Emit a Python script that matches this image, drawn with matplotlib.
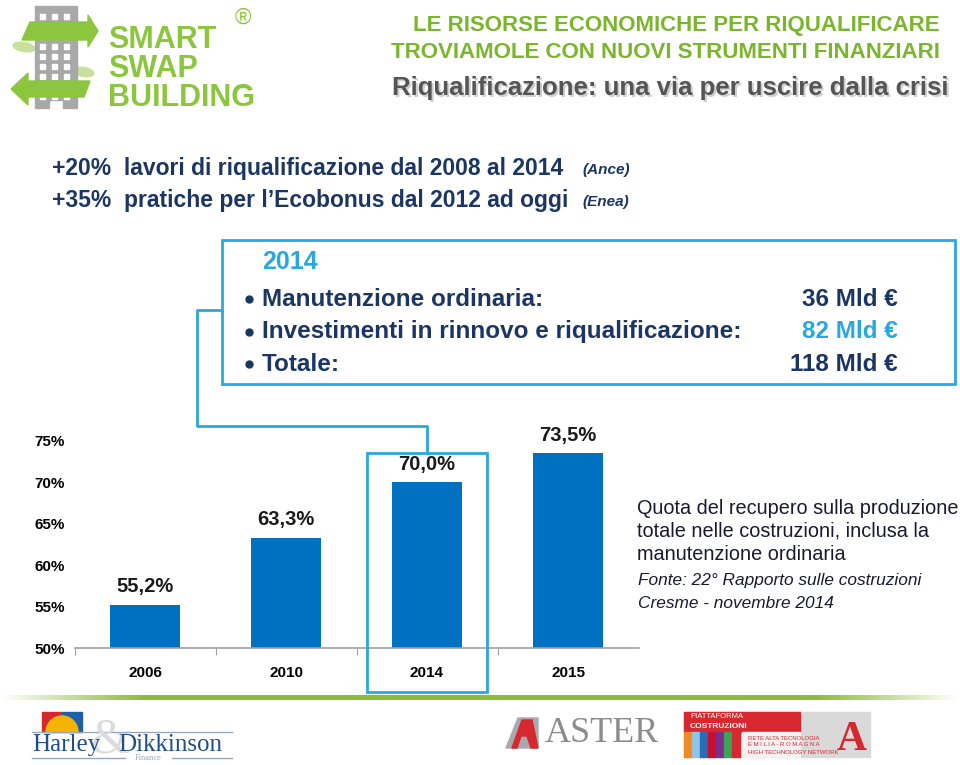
import matplotlib
matplotlib.use("Agg")
import matplotlib.pyplot as plt
import numpy as np
from matplotlib.patches import Rectangle, Polygon, Wedge, Ellipse

# chart data
years = ['2006', '2010', '2014', '2015']
shares = [55.2, 63.3, 70.0, 73.5]
share_labels = ['55,2%', '63,3%', '70,0%', '73,5%']
y_ticks = [50, 55, 60, 65, 70, 75]
y_tick_labels = ['50%', '55%', '60%', '65%', '70%', '75%']
highlight = '2014'

# box content
box_year = '2014'
box_items = ['Manutenzione ordinaria:',
             'Investimenti in rinnovo e riqualificazione:',
             'Totale:']
box_values = ['36 Mld €', '82 Mld €', '118 Mld €']

NAVY = '#1b3663'
CYAN = '#29a8df'
BAR = '#0070c0'
GREEN = '#8cc63f'
NARROW = ['Liberation Sans Narrow', 'Liberation Sans', 'DejaVu Sans']
SANS = ['Liberation Sans', 'DejaVu Sans']
SERIF = ['Liberation Serif', 'DejaVu Serif']

W, H = 960, 765
fig = plt.figure(figsize=(W / 100, H / 100), dpi=100)


def fx(px):
    return px / W


def fy(py):
    return 1 - py / H


# ---- bar chart ----
ax = fig.add_axes([fx(74.5), fy(648), fx(564), (648 - 441) / H])
ax.set_zorder(1)
x = np.arange(len(years))
ax.bar(x, [v - 50 for v in shares], bottom=50, width=0.5, color=BAR)
for xi, v, lab in zip(x, shares, share_labels):
    ax.text(xi, v + 2.2, lab, ha='center', va='center', fontsize=14.5,
            fontweight='bold', family=SANS, color='#1a1a1a', clip_on=False)
ax.set_xlim(-0.5, len(years) - 0.5)
ax.set_ylim(50, 75)
for s in ['top', 'right', 'left']:
    ax.spines[s].set_visible(False)
ax.spines['bottom'].set_color('#a0a0a0')
ax.spines['bottom'].set_linewidth(1.2)
ax.set_yticks(y_ticks)
ax.set_yticklabels(y_tick_labels, fontsize=11, fontweight='bold',
                   family=SANS)
ax.tick_params(axis='y', length=0, pad=7)
ax.set_xticks(np.arange(-0.5, len(years) - 0.5, 1), minor=False)
ax.set_xticklabels([])
ax.tick_params(axis='x', which='major', length=5, color='#a0a0a0',
               direction='out')
ax.set_xticks(x, minor=True)
ax.set_xticklabels(years, minor=True, fontsize=11, fontweight='bold',
                   family=SANS)
ax.tick_params(axis='x', which='minor', length=0, pad=13)
ax.patch.set_alpha(0)

# ---- slide overlay ----
ov = fig.add_axes([0, 0, 1, 1])
ov.set_zorder(2)
ov.axis('off')
ov.patch.set_alpha(0)

# logo: building with arrows
ov.add_patch(Ellipse((24, 47), 22, 9, angle=10, color='#c7e19a'))
ov.add_patch(Ellipse((84, 72), 20, 9, angle=10, color='#c7e19a'))
ov.add_patch(Rectangle((35, 6), 42, 94, color='#a8a8a8'))
ov.add_patch(Rectangle((35, 100), 14, 8, color='#a8a8a8'))
ov.add_patch(Rectangle((63, 100), 14, 8, color='#a8a8a8'))
for wy in range(14, 98, 10):
    for wx in (40, 52, 64):
        ov.add_patch(Rectangle((wx, wy), 5, 5, color='white'))
ov.add_patch(Polygon([[30, 22], [88, 22], [88, 15], [98, 31], [88, 47],
                      [88, 40], [22, 40]], color=GREEN))
ov.add_patch(Polygon([[28, 81], [28, 73], [11, 89], [28, 105], [28, 97],
                      [84, 97], [90, 81]], color=GREEN))
for i, word in enumerate(['SMART', 'SWAP', 'BUILDING']):
    ov.text(108, 40 + 29 * i, word, fontsize=22, fontweight='bold',
            family=SANS, color=GREEN, va='center', ha='left')
ov.text(243, 18, '®', fontsize=16, color=GREEN, family=SANS,
        ha='center', va='center')

# titles
ov.text(940, 25, 'LE RISORSE ECONOMICHE PER RIQUALIFICARE', fontsize=16,
        fontweight='bold', family=SANS, color='#7ab62b', ha='right',
        va='center')
ov.text(940, 52, 'TROVIAMOLE CON NUOVI STRUMENTI FINANZIARI', fontsize=16,
        fontweight='bold', family=SANS, color='#7ab62b', ha='right',
        va='center')
ov.text(950, 90, 'Riqualificazione: una via per uscire dalla crisi',
        fontsize=18.5, fontweight='bold', family=SANS, color='#d0d0d0',
        ha='right', va='center')
ov.text(948, 88, 'Riqualificazione: una via per uscire dalla crisi',
        fontsize=18.5, fontweight='bold', family=SANS, color='#555555',
        ha='right', va='center')

# headline facts
ov.text(52, 168, '+20%  lavori di riqualificazione dal 2008 al 2014',
        fontsize=16.5, fontweight='bold', family=NARROW, color=NAVY,
        va='center')
ov.text(582, 170, '(Ance)', fontsize=11, fontweight='bold', style='italic',
        family=NARROW, color=NAVY, va='center')
ov.text(52, 200, "+35%  pratiche per l’Ecobonus dal 2012 ad oggi",
        fontsize=16.5, fontweight='bold', family=NARROW, color=NAVY,
        va='center')
ov.text(582, 202, '(Enea)', fontsize=11, fontweight='bold', style='italic',
        family=NARROW, color=NAVY, va='center')

# info box
ov.add_patch(Rectangle((222, 240), 733, 144, fill=False, ec=CYAN, lw=2))
ov.text(262, 262, box_year, fontsize=18, fontweight='bold', family=NARROW,
        color=CYAN, va='center')
for i, (item, val) in enumerate(zip(box_items, box_values)):
    yy = 299 + 32.5 * i
    ov.plot(249, yy, 'o', ms=5, color=NAVY)
    ov.text(262, yy, item, fontsize=17.5, fontweight='bold', family=NARROW,
            color=NAVY, va='center')
    ov.text(898, yy, val, fontsize=17.5, fontweight='bold', family=NARROW,
            color=CYAN if i == 1 else NAVY, va='center', ha='right')

# connector and highlight box
hi = years.index(highlight)
cx = 145 + 141 * hi
ov.plot([222, 197, 197, cx, cx], [310, 310, 426, 426, 453], color=CYAN,
        lw=2)
ov.add_patch(Rectangle((cx - 60, 453), 120, 239, fill=False, ec=CYAN,
                       lw=2))

# chart description
for i, line in enumerate(['Quota del recupero sulla produzione',
                          'totale nelle costruzioni, inclusa la',
                          'manutenzione ordinaria']):
    ov.text(637, 508 + 23 * i, line, fontsize=14.3, family=SANS,
            color='#1a1a2e', va='center')
ov.text(638, 581, 'Fonte: 22° Rapporto sulle costruzioni', fontsize=12.4,
        style='italic', family=SANS, color='#1a1a2e', va='center')
ov.text(638, 603, 'Cresme - novembre 2014', fontsize=12.4, style='italic',
        family=SANS, color='#1a1a2e', va='center')

# bottom green line with faded ends
grad = np.clip(np.sin(np.linspace(0, np.pi, 400)) * 2.2, 0, 1)
rgba = np.ones((1, 400, 4))
rgba[0, :, 0] = 0.55
rgba[0, :, 1] = 0.74
rgba[0, :, 2] = 0.22
rgba[0, :, 3] = grad
ov.imshow(rgba, extent=(0, W, 700, 695), aspect='auto')

# Harley & Dikkinson logo
ov.add_patch(Rectangle((42, 712), 20, 20, color='#d7282f'))
ov.add_patch(Rectangle((62, 712), 20, 20, color='#1f5fa8'))
ov.add_patch(Wedge((62, 732), 16, 180, 360, color='#f5b400'))
ov.plot([32, 232], [732, 732], color='#9aa7b8', lw=1)
ov.plot([32, 125], [758, 758], color='#9aa7b8', lw=1)
ov.plot([172, 232], [758, 758], color='#9aa7b8', lw=1)
ov.text(110, 740, '&', fontsize=36, family=SERIF, color='#dcdcdc',
        ha='center', va='center')
ov.text(32, 745, 'Harley', fontsize=18, family=SERIF, color='#1f4f8a',
        va='center')
ov.text(118, 745, 'Dikkinson', fontsize=18, family=SERIF, color='#1f4f8a',
        va='center')
ov.text(148, 758, 'Finance', fontsize=6, family=SERIF, color='#9aa7b8',
        va='center', ha='center')

# ASTER logo
ov.add_patch(Polygon([[506, 748], [518, 718], [538, 718], [538, 748]],
                     color='#a7a9ac'))
ov.add_patch(Polygon([[512, 748], [522, 720], [532, 720], [538, 748],
                      [531, 748], [527, 736], [521, 736], [517, 748]],
                     color='#d7282f'))
ov.text(545, 734, 'ASTER', fontsize=26, family=SERIF, color='#8c8c8c',
        va='center')

# Piattaforma costruzioni logo
ov.add_patch(Rectangle((684, 712), 186, 45, color='#d9d9d9'))
ov.add_patch(Rectangle((684, 712), 116, 20, color='#d7282f'))
ov.text(690, 717, 'PIATTAFORMA', fontsize=5.5, color='white', family=SANS,
        va='center')
ov.text(690, 726, 'COSTRUZIONI', fontsize=6, fontweight='bold',
        color='white', family=SANS, va='center')
for i, c in enumerate(['#f08a24', '#8fc3ea', '#2a6db5', '#c8102e',
                       '#7b2d8e', '#3aa655', '#d7282f']):
    ov.add_patch(Rectangle((684 + 8 * i, 732), 8, 25, color=c))
ov.add_patch(Rectangle((742, 732), 58, 25, color='#f2f2f2'))
ov.text(748, 738, 'RETE ALTA TECNOLOGIA', fontsize=4.3, color='#d7282f',
        family=SANS, va='center')
ov.text(748, 745, 'E M I L I A - R O M A G N A', fontsize=4.3,
        color='#d7282f', family=SANS, va='center')
ov.text(748, 752, 'HIGH TECHNOLOGY NETWORK', fontsize=4.3, color='#d7282f',
        family=SANS, va='center')
ov.text(852, 740, 'A', fontsize=30, fontweight='bold', family=SERIF,
        color='#d7282f', ha='center', va='center')

ov.set_xlim(0, W)
ov.set_ylim(H, 0)

fig.savefig('out.png', dpi=100, facecolor='white')
